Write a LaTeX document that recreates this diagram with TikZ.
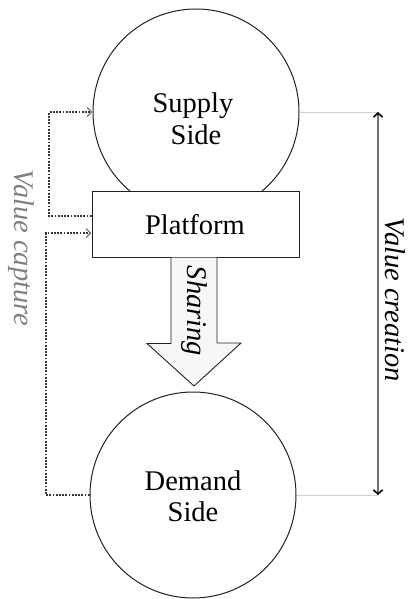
\documentclass[tikz,border=0pt]{standalone}
\usepackage{fontspec}
\setmainfont{Liberation Serif}
\usetikzlibrary{arrows.meta,calc}
\definecolor{capgray}{HTML}{808080}
\definecolor{linegray}{HTML}{222222}
\tikzset{
  bigcircle/.style={circle,draw=linegray,line width=1pt,minimum size=206pt,inner sep=0pt},
  platbox/.style={rectangle,draw=linegray,line width=1pt,fill=white,minimum width=207pt,minimum height=66pt,inner sep=0pt},
  lbl/.style={font=\fontsize{28.5}{31}\selectfont,inner sep=0pt},
  capline/.style={draw=linegray!90,line width=1.4pt,dash pattern=on 1.8pt off 1.4pt},
  captip/.style={-{Straight Barb[color=capgray,length=4.5pt,width=9pt,line width=1.4pt]}},
  guide/.style={draw=gray!35,line width=0.8pt},
  creation/.style={draw=gray!90!black,line width=1.5pt,{Straight Barb[color=black,length=4pt,width=9pt,line width=1.6pt]}-{Straight Barb[color=black,length=4pt,width=9pt,line width=1.6pt]}},
  sharearrow/.style={draw=linegray,line width=0.9pt,fill=gray!6}
}
\begin{document}
\begin{tikzpicture}[x=1pt,y=-1pt]
\useasboundingbox (0,0) rectangle (408,599);
% circles
\node[bigcircle] (supply) at (196,112) {};
\node[bigcircle] (demand) at (193,495) {};
% platform
\node[platbox] (platform) at (195.5,224) {};
\node[lbl,anchor=base] (platformtxt) at (195,234) {Platform};
\node[lbl,anchor=base] (supplytxt1) at (193,113) {Supply};
\node[lbl,anchor=base] (supplytxt2) at (196,144) {Side};
\node[lbl,anchor=base] (demandtxt1) at (193,490) {Demand};
\node[lbl,anchor=base] (demandtxt2) at (193,521) {Side};
% sharing arrow
\coordinate (shA) at ($(platform.south)+(-24.5,0)$);
\coordinate (shB) at ($(platform.south)+(21.5,0)$);
\draw[sharearrow] (shA) -- ++(0,86) -- ++(-24,0) -- (194,386) -- (241,343) -- ++(-24,0) -- (shB);
\node[lbl,font=\fontsize{28.5}{31}\selectfont\itshape,rotate=-90] (sharing) at (194,311) {Sharing};
% value capture lines
\coordinate (u1) at (49,216);
\coordinate (u2) at (49,112);
\draw[capline,captip] ([yshift=8pt]platform.west) -- (u1) -- (u2) -- (supply.west);
\coordinate (l1) at (46,495);
\coordinate (l2) at (46,233);
\draw[capline,captip] (demand.west) -- (l1) -- (l2) -- ([yshift=-9pt]platform.west);
\node[lbl,font=\fontsize{28.5}{31}\selectfont\itshape,text=capgray,rotate=-90] (capture) at (21,248) {Value capture};
% value creation
\coordinate (r1) at (378,112);
\coordinate (r2) at (378,495);
\draw[guide] (supply.east) -- (r1);
\draw[guide] (demand.east) -- (r2);
\draw[creation] (r1) -- (r2);
\node[lbl,font=\fontsize{28.5}{31}\selectfont\itshape,rotate=-90] (creation) at (395,300) {Value creation};
\end{tikzpicture}
\end{document}
